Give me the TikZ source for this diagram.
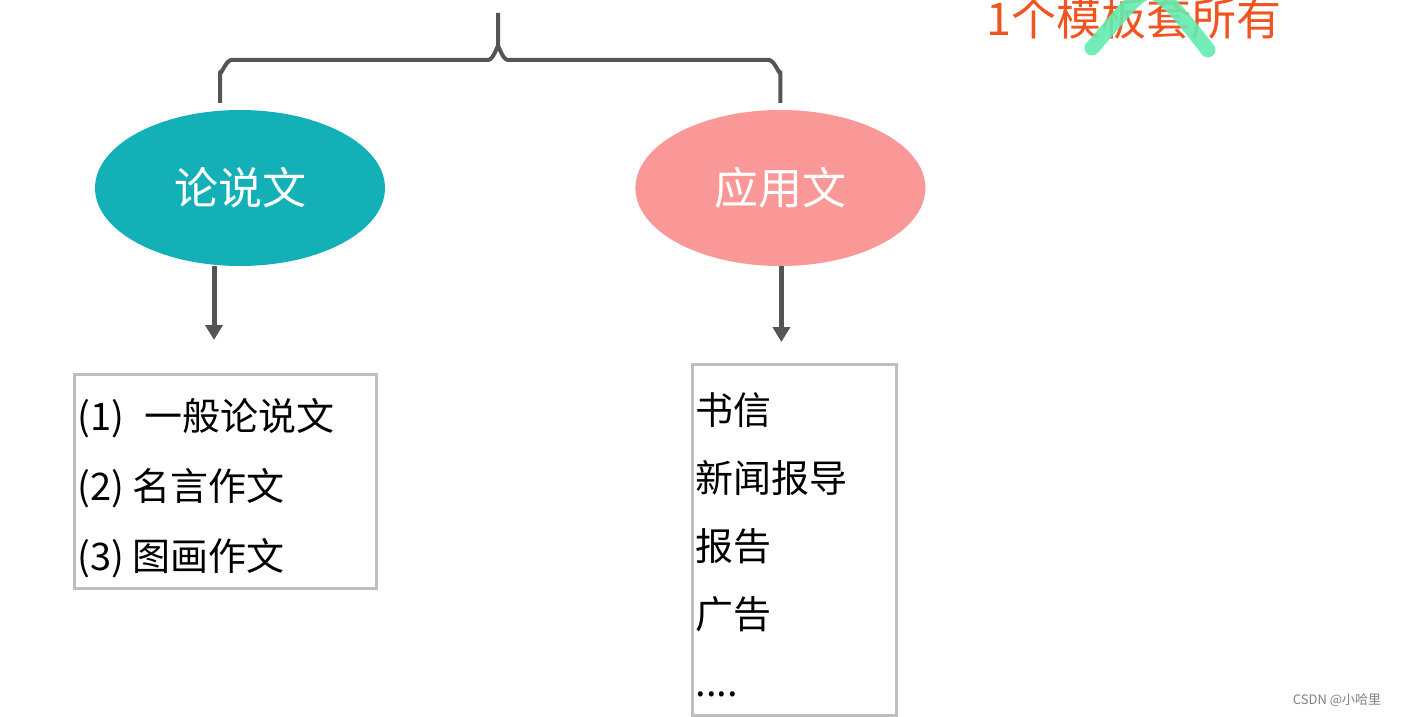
\documentclass[tikz,border=0pt]{standalone}
\usepackage{fontspec}
\setmainfont{Noto Sans CJK SC}
\usepackage{xcolor}
\usetikzlibrary{shapes.geometric,arrows.meta,positioning,calc}

\definecolor{lunteal}{RGB}{20,176,184}
\definecolor{yingpink}{RGB}{250,152,152}
\definecolor{linegray}{RGB}{85,85,85}
\definecolor{boxgray}{RGB}{190,190,190}
\definecolor{notered}{RGB}{240,84,32}
\definecolor{markgreen}{RGB}{100,235,175}

\begin{document}
\begin{tikzpicture}[x=1pt, y=-1pt, >={Triangle[length=15pt,width=17pt]}, node distance=250pt,
  kind/.style={ellipse, minimum width=290pt, minimum height=156pt, text=white, font=\fontsize{44}{50}\selectfont},
  listbox/.style={draw=boxgray, line width=3pt, anchor=north west, align=left, inner xsep=3pt, font=\fontsize{38}{69}\selectfont},
  link/.style={->, draw=linegray, line width=5pt}]

\useasboundingbox (0,0) rectangle (1402,717);

\node[kind, fill=lunteal]  (lun)                     at (240,188) {论说文};
\node[kind, fill=yingpink] (ying) [right=of lun]                  {应用文};

\node[listbox, text width=296pt, minimum width=302pt, minimum height=214pt, font=\fontsize{38}{70}\selectfont] (lunlist) at (73,373)
  {\rule{0pt}{46pt}(1)\hspace{20pt}一般论说文\\(2)\hspace{8pt}名言作文\\(3)\hspace{8pt}图画作文};
\node[listbox, text width=198pt, minimum width=204pt, minimum height=351pt, font=\fontsize{38}{68}\selectfont] (yinglist) at (691,363)
  {\rule{0pt}{41pt}书信\\新闻报导\\报告\\广告\\....};

\coordinate (top) at (498,13);

% brace over the two kinds
\draw[draw=linegray, line width=4pt, line join=round]
  ([xshift=-20pt,yshift=7pt]lun.north) -- ++(0,-31) to[out=-90,in=180] ++(12,-12)
  -- ($(top)+(-10,47)$) to[out=0,in=90] ($(top)+(0,35)$) -- (top);
\draw[draw=linegray, line width=4pt, line join=round]
  ($(top)+(0,35)$) to[out=90,in=180] ($(top)+(10,47)$)
  -- ([xshift=-12pt,yshift=50pt]ying.north) to[out=0,in=-90] ([yshift=38pt]ying.north) -- ([yshift=7pt]ying.north);

\draw[link] ([xshift=-26pt]lun.south) -- ($(lun.south |- lunlist.north)+(-26,-33)$);
\draw[link] ([xshift=1pt]ying.south)  -- ($(ying.south |- yinglist.north)+(1,-21)$);

% note in the corner
\node[text=notered, font=\fontsize{45}{50}\selectfont] (note) at (1134,18) {1个模板套所有};
\draw[draw=markgreen, opacity=0.9, line width=15pt, line cap=round]
  (1092,48) .. controls (1125,10) and (1138,-8) .. (1150,-8)
  .. controls (1162,-8) and (1180,14) .. (1208,50);

\node[text=gray, font=\fontsize{13}{15}\selectfont] (mark) at (1337,700) {CSDN @小哈里};

\end{tikzpicture}
\end{document}
